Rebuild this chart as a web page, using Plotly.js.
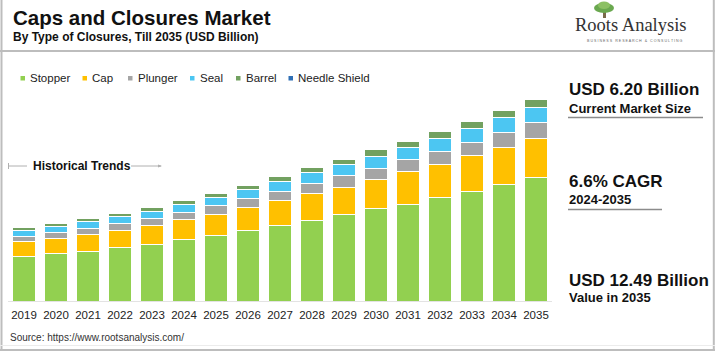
<!DOCTYPE html>
<html>
<head>
<meta charset="utf-8">
<script src="https://cdn.plot.ly/plotly-3.0.1.min.js"></script>
<style>html,body{margin:0;padding:0;background:#fff;}#chart{width:715px;height:352px;}</style>
</head>
<body>
<div id="chart"></div>
<script>
const years = ["2019","2020","2021","2022","2023","2024","2025","2026","2027","2028","2029","2030","2031","2032","2033","2034","2035"];
const stopper = [2.74,2.91,3.09,3.30,3.48,3.83,4.04,4.33,4.66,4.99,5.32,5.69,5.98,6.39,6.76,7.20,7.62];
const cap     = [0.93,0.97,1.03,1.07,1.20,1.20,1.32,1.46,1.55,1.65,1.73,1.81,2.00,2.06,2.21,2.31,2.45];
const plunger = [0.35,0.37,0.35,0.41,0.41,0.43,0.52,0.52,0.58,0.62,0.70,0.70,0.76,0.80,0.85,0.91,0.95];
const seal    = [0.35,0.35,0.43,0.45,0.45,0.49,0.52,0.58,0.58,0.66,0.68,0.74,0.74,0.80,0.85,0.91,0.95];
const barrel  = [0.16,0.19,0.19,0.19,0.23,0.25,0.27,0.25,0.31,0.31,0.35,0.40,0.39,0.43,0.45,0.47,0.52];
const needle  = [0,0,0,0,0,0,0,0,0,0,0,0.03,0,0,0,0,0];

const seriesNames = ["Stopper","Cap","Plunger","Seal","Barrel","Needle Shield"];
const seriesValues = [stopper, cap, plunger, seal, barrel, needle];
const seriesColors = ["#92d050","#ffc000","#a5a5a5","#4cc6f2","#72a160","#2f6fb5"];

const title = "Caps and Closures Market";
const subtitle = "By Type of Closures, Till 2035 (USD Billion)";
const sourceText = "Source: https://www.rootsanalysis.com/";
const historicalLabel = "Historical Trends";
const kpis = [
  ["USD 6.20 Billion","Current Market Size"],
  ["6.6% CAGR","2024-2035"],
  ["USD 12.49 Billion","Value in 2035"]
];

const W = 715, H = 352;
const M = {l: 8, r: 163, t: 83, b: 51};
const PW = W - M.l - M.r, PH = H - M.t - M.b;
const px = x => (x - M.l) / PW;
const py = y => (H - M.b - y) / PH;
const FONT = "Liberation Sans, Arial, sans-serif";

const traces = seriesNames.map((n, i) => ({
  type: "bar", name: n, x: years, y: seriesValues[i],
  marker: {color: seriesColors[i], line: {color: "#ffffff", width: 1}},
  hoverinfo: "skip", showlegend: false
}));

const annotations = [];
const shapes = [];

// Titles
annotations.push({xref:"paper", yref:"paper", x: px(11), y: py(17), xanchor:"left", yanchor:"middle",
  text: "<b>" + title + "</b>", showarrow:false, font:{family:FONT, size:20.5, color:"#111"}});
annotations.push({xref:"paper", yref:"paper", x: px(11), y: py(37), xanchor:"left", yanchor:"middle",
  text: "<b>" + subtitle + "</b>", showarrow:false, font:{family:FONT, size:12, color:"#111"}});

// Custom legend
const legMarkX = [20.5, 82.5, 128, 190, 236, 288.5];
seriesNames.forEach((n, i) => {
  shapes.push({type:"rect", xref:"paper", yref:"paper", x0: px(legMarkX[i]), x1: px(legMarkX[i]+4.5),
    y0: py(80.5), y1: py(76), fillcolor: seriesColors[i], line:{width:0}});
  annotations.push({xref:"paper", yref:"paper", x: px(legMarkX[i]+7.5), y: py(78.5), xanchor:"left", yanchor:"middle",
    text: n, showarrow:false, font:{family:FONT, size:11.5, color:"#222"}});
});

// Historical trends
annotations.push({xref:"paper", yref:"paper", x: px(31), y: py(166), xanchor:"left", yanchor:"middle",
  text: "<b>" + historicalLabel + "</b>", showarrow:false, font:{family:FONT, size:12, color:"#111"}});
shapes.push({type:"line", xref:"paper", yref:"paper", x0: px(8.5), x1: px(27), y0: py(166), y1: py(166), line:{color:"#b0b0b0", width:1}});
shapes.push({type:"line", xref:"paper", yref:"paper", x0: px(8.5), x1: px(8.5), y0: py(163), y1: py(169), line:{color:"#b0b0b0", width:1}});
shapes.push({type:"line", xref:"paper", yref:"paper", x0: px(131), x1: px(161), y0: py(166), y1: py(166), line:{color:"#b0b0b0", width:1}});
shapes.push({type:"path", xref:"paper", yref:"paper",
  path: `M ${px(158)} ${py(164.5)} L ${px(162)} ${py(166)} L ${px(158)} ${py(167.5)} Z`, fillcolor:"#b0b0b0", line:{width:0}});

// KPI panel
const kpiY = [[89.5, 108], [181.5, 199.5], [280, 297]];
kpis.forEach((k, i) => {
  annotations.push({xref:"paper", yref:"paper", x: px(566.5), y: py(kpiY[i][0]), xanchor:"left", yanchor:"middle",
    text: "<b>" + k[0] + "</b>", showarrow:false, font:{family:FONT, size:17, color:"#111"}});
  annotations.push({xref:"paper", yref:"paper", x: px(567), y: py(kpiY[i][1]), xanchor:"left", yanchor:"middle",
    text: "<b>" + k[1] + "</b>", showarrow:false, font:{family:FONT, size:13, color:"#111"}});
});
shapes.push({type:"line", xref:"paper", yref:"paper", x0: px(568), x1: px(703), y0: py(117.5), y1: py(117.5), line:{color:"#8c8c8c", width:1.5}});
shapes.push({type:"line", xref:"paper", yref:"paper", x0: px(568), x1: px(662), y0: py(209.5), y1: py(209.5), line:{color:"#8c8c8c", width:1.5}});

// Source
annotations.push({xref:"paper", yref:"paper", x: px(8), y: py(337), xanchor:"left", yanchor:"middle",
  text: sourceText, showarrow:false, font:{family:FONT, size:10, color:"#333"}});

// Logo
annotations.push({xref:"paper", yref:"paper", x: px(631), y: py(25.5), xanchor:"center", yanchor:"middle",
  text: "Roots Analysis", showarrow:false, font:{family:"Liberation Serif, Times New Roman, serif", size:18.5, color:"#333"}});
annotations.push({xref:"paper", yref:"paper", x: px(635), y: py(41.5), xanchor:"center", yanchor:"middle",
  text: "B U S I N E S S   R E S E A R C H   &   C O N S U L T I N G", showarrow:false, font:{family:FONT, size:3.6, color:"#666"}});
shapes.push({type:"rect", xref:"paper", yref:"paper", x0: px(603), x1: px(606), y0: py(18), y1: py(10), fillcolor:"#7a6a4a", line:{width:0}});
shapes.push({type:"circle", xref:"paper", yref:"paper", x0: px(594), x1: px(614), y0: py(13), y1: py(3), fillcolor:"#6aa84f", line:{width:0}});
shapes.push({type:"circle", xref:"paper", yref:"paper", x0: px(598), x1: px(610), y0: py(9), y1: py(1.5), fillcolor:"#8cc063", line:{width:0}});

// Frame
shapes.push({type:"line", xref:"paper", yref:"paper", x0: px(0), x1: px(715), y0: py(51), y1: py(51), line:{color:"#bdbdbd", width:2}});
shapes.push({type:"line", xref:"paper", yref:"paper", x0: px(1.5), x1: px(1.5), y0: py(0), y1: py(351), line:{color:"#bdbdbd", width:2}});
shapes.push({type:"line", xref:"paper", yref:"paper", x0: px(713.8), x1: px(713.8), y0: py(0), y1: py(351), line:{color:"#bdbdbd", width:2}});
shapes.push({type:"line", xref:"paper", yref:"paper", x0: px(0), x1: px(715), y0: py(350), y1: py(350), line:{color:"#bdbdbd", width:2}});
shapes.push({type:"line", xref:"paper", yref:"paper", x0: px(0), x1: px(715), y0: py(345.5), y1: py(345.5), line:{color:"#ececec", width:1}});

const layout = {
  width: W, height: H,
  margin: M,
  paper_bgcolor: "#ffffff", plot_bgcolor: "#ffffff",
  barmode: "stack", bargap: 0.28,
  showlegend: false,
  xaxis: {type:"category", showgrid:false, zeroline:false, showline:true, linecolor:"#e3e3e3", linewidth:1,
    ticks:"", ticklabelstandoff: 3, tickfont:{family:FONT, size:11.5, color:"#222"}, fixedrange:true},
  yaxis: {range:[0, PH/16.17], showgrid:false, zeroline:false, showline:false, showticklabels:false, ticks:"", fixedrange:true},
  annotations: annotations,
  shapes: shapes,
  font: {family: FONT}
};

Plotly.newPlot("chart", traces, layout, {displayModeBar:false, staticPlot:true});
</script>
</body>
</html>
